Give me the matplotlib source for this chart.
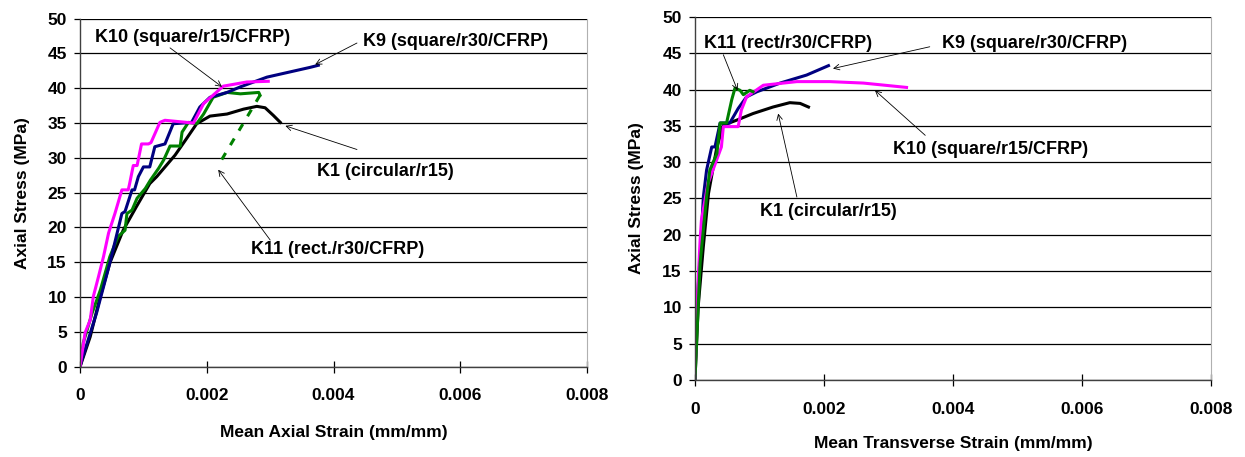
import matplotlib
matplotlib.use("Agg")
import matplotlib.pyplot as plt
from matplotlib.ticker import MultipleLocator

plt.rcParams["font.family"] = ["Liberation Sans", "DejaVu Sans"]
plt.rcParams["font.weight"] = "bold"

# ---- axial strain curves (left) ----
k9_ax_strain = [0, 0.00003, 0.00026, 0.00047, 0.00066, 0.00071, 0.00082, 0.00086, 0.00092, 0.00100,
                0.00110, 0.00118, 0.00134, 0.00147, 0.00176, 0.00189, 0.00205, 0.00232, 0.00253,
                0.00295, 0.00363, 0.00376]
k9_ax_stress = [0, 1.0, 7.7, 14.9, 22.0, 22.3, 25.4, 25.4, 27.3, 28.7,
                28.7, 31.6, 32.0, 34.9, 35.1, 37.3, 38.7, 39.4, 40.2,
                41.6, 43.0, 43.3]

k10_ax_strain = [0, 0.00008, 0.00016, 0.00021, 0.00029, 0.00037, 0.00045, 0.00055, 0.00066, 0.00076,
                 0.00078, 0.00084, 0.00090, 0.00097, 0.00108, 0.00112, 0.00126, 0.00134, 0.00179,
                 0.00195, 0.00226, 0.00263, 0.00297]
k10_ax_stress = [0, 4.9, 6.7, 10.1, 12.9, 15.8, 19.2, 22.0, 25.4, 25.4,
                 26.2, 28.9, 28.9, 32.0, 32.0, 32.2, 35.1, 35.4, 35.0,
                 37.8, 40.3, 40.9, 41.0]

k11_ax_strain = [0, 0.00005, 0.00019, 0.00032, 0.00047, 0.00060, 0.00071, 0.00074, 0.00082, 0.00090,
                 0.00103, 0.00111, 0.00124, 0.00132, 0.00142, 0.00158, 0.00161, 0.00171, 0.00184,
                 0.00195, 0.00210, 0.00232, 0.00253, 0.00282, 0.00284]
k11_ax_stress = [0, 3.4, 7.7, 11.0, 15.8, 18.7, 19.6, 22.0, 22.5, 24.2,
                 25.6, 26.8, 28.5, 29.7, 31.7, 31.7, 33.7, 35.1, 34.9,
                 36.3, 38.7, 39.4, 39.2, 39.4, 39.0]
# unloading branch of K11 (dashed)
k11_drop_strain = [0.00284, 0.00218]
k11_drop_stress = [39.0, 28.9]

k1_ax_strain = [0, 0.00016, 0.00032, 0.00047, 0.00068, 0.00089, 0.00110, 0.00121, 0.00150, 0.00166,
                0.00184, 0.00205, 0.00232, 0.00258, 0.00279, 0.00292, 0.00305, 0.00316]
k1_ax_stress = [0, 4.3, 10.1, 14.9, 19.6, 23.0, 26.3, 27.3, 30.4, 32.5,
                34.9, 36.0, 36.3, 37.0, 37.4, 37.2, 36.1, 35.1]

# ---- transverse strain curves (right) ----
k9_tr_strain = [0, 0.00003, 0.00008, 0.00013, 0.00018, 0.00026, 0.00031, 0.00039, 0.00054, 0.00067,
                0.00080, 0.00096, 0.00132, 0.00173, 0.00207]
k9_tr_stress = [0, 10.1, 17.0, 25.2, 28.9, 32.1, 32.1, 35.4, 35.4, 37.4,
                39.0, 39.7, 40.9, 42.0, 43.3]

k10_tr_strain = [0, 0.00004, 0.00008, 0.00010, 0.00020, 0.00041, 0.00044, 0.00067, 0.00072, 0.00080,
                 0.00106, 0.00158, 0.00209, 0.00261, 0.00328]
k10_tr_stress = [0, 12.0, 19.3, 22.0, 27.0, 32.1, 34.9, 34.9, 37.2, 39.0,
                 40.6, 41.1, 41.1, 40.9, 40.3]

k11_tr_strain = [0, 0.00008, 0.00018, 0.00023, 0.00034, 0.00039, 0.00049, 0.00057, 0.00062, 0.00070,
                 0.00075, 0.00085, 0.00090]
k11_tr_stress = [0, 16.1, 25.2, 28.9, 31.2, 35.4, 35.4, 38.6, 40.2, 39.9,
                 39.3, 39.9, 39.7]

k1_tr_strain = [0, 0.00005, 0.00013, 0.00021, 0.00034, 0.00044, 0.00065, 0.00090, 0.00121, 0.00147,
                0.00163, 0.00176]
k1_tr_stress = [0, 10.1, 18.4, 25.7, 32.1, 35.1, 35.8, 36.7, 37.6, 38.2,
                38.1, 37.6]

x_ticks = [0, 0.002, 0.004, 0.006, 0.008]
x_tick_labels = ["0", "0.002", "0.004", "0.006", "0.008"]

NAVY = "#000080"
PINK = "#FF00FF"
GREEN = "#008000"
LW = 2.2


def style_axes(ax, xlabel, xlab_y):
    ax.set_xlim(0, 0.008)
    ax.set_ylim(0, 50)
    ax.yaxis.set_major_locator(MultipleLocator(5))
    ax.set_xticks(x_ticks)
    ax.set_xticklabels(x_tick_labels)
    ax.grid(axis="y", color="black", lw=0.9)
    ax.set_axisbelow(True)
    ax.spines["top"].set_visible(False)
    ax.spines["right"].set_color("#b0b0b0")
    ax.spines["right"].set_linewidth(0.8)
    for s in ("left", "bottom"):
        ax.spines[s].set_color("#404040")
        ax.spines[s].set_linewidth(1.0)
    ax.tick_params(axis="x", direction="inout", length=9, width=0.9, labelsize=12.5, pad=11)
    ax.tick_params(axis="y", direction="out", length=4.5, width=0.9, labelsize=12.5, pad=5)
    for lab in ax.get_xticklabels() + ax.get_yticklabels():
        lab.set_fontweight("bold")
    ax.set_xlabel(xlabel, fontsize=12.5, fontweight="bold")
    ax.set_ylabel("Axial Stress (MPa)", fontsize=12.5, fontweight="bold")
    ax.xaxis.set_label_coords(0.5, xlab_y)
    ax.yaxis.set_label_coords(-0.114, 0.5)
    ax.xaxis.label.set_va("center")
    ax.yaxis.label.set_va("center")


def note(ax, text, text_xy, start, tip):
    ax.text(*text_xy, text, fontsize=13, fontweight="bold", ha="center", va="center")
    ax.annotate("", xy=tip, xytext=start,
                arrowprops=dict(arrowstyle="->", lw=0.6, color="black",
                                shrinkA=0, shrinkB=0, mutation_scale=10))


fig = plt.figure(figsize=(12.45, 4.57), dpi=100)
ax1 = fig.add_axes([0.0643, 0.1976, 0.4072, 0.7616])
ax2 = fig.add_axes([0.5582, 0.1685, 0.4145, 0.7943])

# left panel: axial strain
ax1.plot(k1_ax_strain, k1_ax_stress, color="black", lw=LW)
ax1.plot(k11_ax_strain, k11_ax_stress, color=GREEN, lw=LW)
ax1.plot(k11_drop_strain, k11_drop_stress, color=GREEN, lw=LW, ls=(0, (2.5, 3)))
ax1.plot(k9_ax_strain, k9_ax_stress, color=NAVY, lw=LW)
ax1.plot(k10_ax_strain, k10_ax_stress, color=PINK, lw=LW)
style_axes(ax1, "Mean Axial Strain (mm/mm)", -0.188)

note(ax1, "K10 (square/r15/CFRP)", (0.00177, 47.3), (0.00142, 45.8), (0.00224, 40.2))
note(ax1, "K9 (square/r30/CFRP)", (0.00592, 46.7), (0.00437, 46.5), (0.00371, 43.4))
note(ax1, "K1 (circular/r15)", (0.00482, 28.1), (0.00437, 31.2), (0.00324, 34.6))
note(ax1, "K11 (rect./r30/CFRP)", (0.00407, 16.8), (0.00300, 18.2), (0.00218, 28.3))

# right panel: transverse strain
ax2.plot(k1_tr_strain, k1_tr_stress, color="black", lw=LW)
ax2.plot(k9_tr_strain, k9_tr_stress, color=NAVY, lw=LW)
ax2.plot(k10_tr_strain, k10_tr_stress, color=PINK, lw=LW)
ax2.plot(k11_tr_strain, k11_tr_stress, color=GREEN, lw=LW)
style_axes(ax2, "Mean Transverse Strain (mm/mm)", -0.174)

note(ax2, "K11 (rect/r30/CFRP)", (0.00145, 46.4), (0.00044, 44.8), (0.00066, 39.9))
note(ax2, "K9 (square/r30/CFRP)", (0.00527, 46.4), (0.00364, 45.9), (0.00214, 42.9))
note(ax2, "K10 (square/r15/CFRP)", (0.00459, 31.7), (0.00357, 33.7), (0.00279, 39.9))
note(ax2, "K1 (circular/r15)", (0.00207, 23.2), (0.00158, 25.2), (0.00129, 36.7))

fig.savefig("out.png", dpi=100)
